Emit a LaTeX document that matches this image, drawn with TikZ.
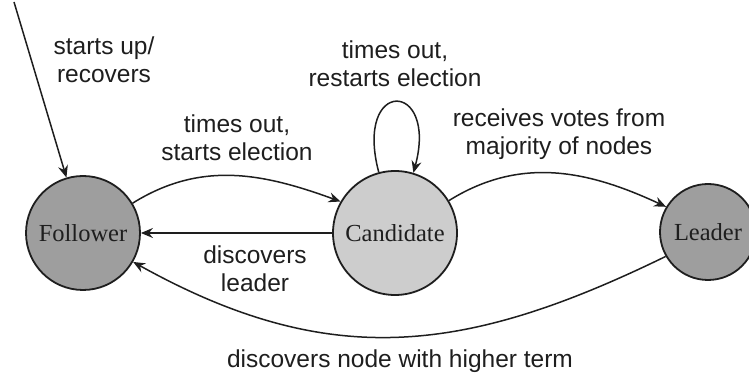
\documentclass[tikz,border=0pt]{standalone}
\usepackage{fontspec}
\setmainfont{Liberation Serif}
\setsansfont{Liberation Sans}
\usetikzlibrary{arrows.meta}
\definecolor{ink}{RGB}{30,30,30}
\definecolor{darkstate}{RGB}{158,158,158}
\definecolor{lightstate}{RGB}{205,205,205}
\begin{document}
\begin{tikzpicture}[x=1pt,y=1pt,
  state/.style={circle, draw=ink, line width=1.8pt, inner sep=0pt, text=ink,
    font=\fontsize{24.5}{28}\selectfont},
  edge/.style={draw=ink, line width=1.5pt,
    -{Stealth[length=12pt,width=10pt,inset=4pt]}},
  lbl/.style={align=center, text=ink, inner sep=0pt,
    font=\sffamily\fontsize{24.5}{28}\selectfont}]
\useasboundingbox (0,0) rectangle (749,374);

% server states
\node[state, fill=darkstate,  minimum size=114pt] (F) at (83,141)  {Follower};
\node[state, fill=lightstate, minimum size=124pt] (C) at (395,141) {Candidate};
\node[state, fill=darkstate,  minimum size=96pt]  (L) at (708,142) {Leader};

% transitions
\coordinate (entry) at (14,372);
\draw[edge] (entry) -- (F);
\draw[edge] (F.31) to[out=32,in=160] (C.150);
\draw[edge] (C) -- (F);
\draw[edge] (C.105) .. controls +(-25,95) and +(25,93) .. (C.73);
\draw[edge] (C.31) to[out=32,in=155] (L.149);
\draw[edge] (L.210) .. controls +(-201,-98) and +(196,-109) .. (F.-30);

% transition labels
\node[lbl] (up)      at (104,314) {starts up/\\recovers};
\node[lbl] (elect)   at (237,236) {times out,\\starts election};
\node[lbl] (found)   at (255,105) {discovers\\leader};
\node[lbl] (restart) at (395,310) {times out,\\restarts election};
\node[lbl] (win)     at (559,240) {receives votes from\\majority of nodes};
\node[lbl, anchor=base] (term) at (400,6) {discovers node with higher term};
\end{tikzpicture}
\end{document}
